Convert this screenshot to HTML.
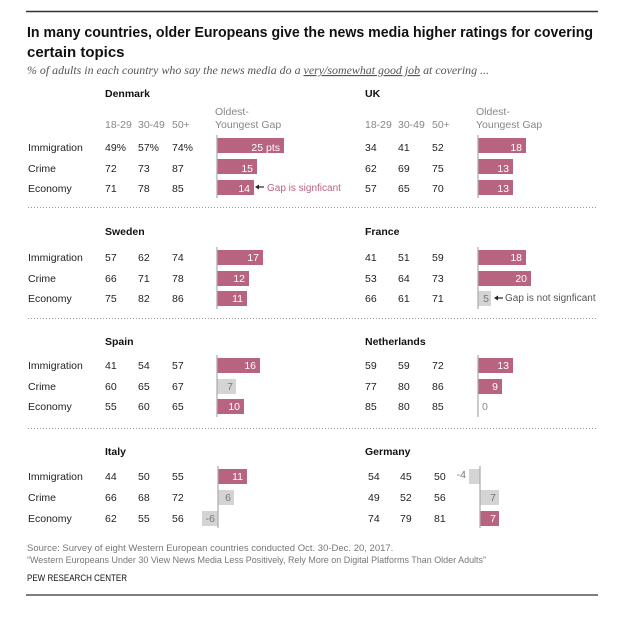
<!DOCTYPE html>
<html><head><meta charset="utf-8"><style>
html,body{margin:0;padding:0;background:#fff;width:620px;height:620px;overflow:hidden}
svg{display:block}
text{font-family:"Liberation Sans",sans-serif;font-size:10.5px;fill:#222}
.h{font-weight:bold;font-size:10.5px;fill:#111}
.g{fill:#888}
.w{fill:#fff;text-anchor:end}
.gr{fill:#777;text-anchor:end}
.pk{fill:#b8637f}
.bg{fill:#d4d4d4}
.ax{stroke:#aaa;stroke-width:1.2}
.sep{stroke:#999;stroke-width:1;stroke-dasharray:1,2}
</style></head><body>
<svg width="620" height="620" viewBox="0 0 620 620" xmlns="http://www.w3.org/2000/svg">
<line x1="26" y1="11.5" x2="598" y2="11.5" stroke="#333" stroke-width="1.5"/>
<text x="27" y="37" style="font-size:15px;font-weight:bold;fill:#111" textLength="566" lengthAdjust="spacingAndGlyphs">In many countries, older Europeans give the news media higher ratings for covering</text>
<text x="27" y="57" style="font-size:15px;font-weight:bold;fill:#111">certain topics</text>
<text x="27" y="74" style="font-family:'Liberation Serif',serif;font-style:italic;font-size:11.5px;fill:#555" textLength="462" lengthAdjust="spacingAndGlyphs">% of adults in each country who say the news media do a <tspan text-decoration="underline">very/somewhat good job</tspan> at covering ...</text>

<text class="h" x="105" y="97">Denmark</text>
<text class="h" x="365" y="97">UK</text>
<text x="105" y="128" class="g">18-29</text><text x="138" y="128" class="g">30-49</text><text x="172" y="128" class="g">50+</text>
<text x="215" y="115" class="g">Oldest-</text><text x="215" y="128" class="g">Youngest Gap</text>
<text x="365" y="128" class="g">18-29</text><text x="398" y="128" class="g">30-49</text><text x="432" y="128" class="g">50+</text>
<text x="476" y="115" class="g">Oldest-</text><text x="476" y="128" class="g">Youngest Gap</text>
<text x="28" y="151">Immigration</text><text x="28" y="172">Crime</text><text x="28" y="192">Economy</text>
<text x="105" y="151">49%</text><text x="138" y="151">57%</text><text x="172" y="151">74%</text>
<text x="105" y="172">72</text><text x="138" y="172">73</text><text x="172" y="172">87</text>
<text x="105" y="192">71</text><text x="138" y="192">78</text><text x="172" y="192">85</text>
<rect class="pk" x="217" y="138" width="67" height="15"/><text class="w" x="280" y="151">25 pts</text>
<rect class="pk" x="217" y="159" width="40" height="15"/><text class="w" x="253" y="172">15</text>
<rect class="pk" x="217" y="180" width="37" height="15"/><text class="w" x="250" y="192">14</text>
<line x1="257" y1="187" x2="264" y2="187" stroke="#222" stroke-width="1.2"/><path d="M255 187 L259 184.5 L259 189.5 Z" fill="#222"/>
<text x="267" y="191" style="fill:#b8637f;font-size:10px">Gap is signficant</text>
<line class="ax" x1="217" y1="135" x2="217" y2="198"/>
<text x="365" y="151">34</text><text x="398" y="151">41</text><text x="432" y="151">52</text>
<text x="365" y="172">62</text><text x="398" y="172">69</text><text x="432" y="172">75</text>
<text x="365" y="192">57</text><text x="398" y="192">65</text><text x="432" y="192">70</text>
<rect class="pk" x="478" y="138" width="48" height="15"/><text class="w" x="522" y="151">18</text>
<rect class="pk" x="478" y="159" width="35" height="15"/><text class="w" x="509" y="172">13</text>
<rect class="pk" x="478" y="180" width="35" height="15"/><text class="w" x="509" y="192">13</text>
<line class="ax" x1="478" y1="135" x2="478" y2="198"/>
<line class="sep" x1="28" y1="207.5" x2="598" y2="207.5"/>

<text class="h" x="105" y="235">Sweden</text>
<text class="h" x="365" y="235">France</text>
<text x="28" y="261">Immigration</text><text x="28" y="282">Crime</text><text x="28" y="302">Economy</text>
<text x="105" y="261">57</text><text x="138" y="261">62</text><text x="172" y="261">74</text>
<text x="105" y="282">66</text><text x="138" y="282">71</text><text x="172" y="282">78</text>
<text x="105" y="302">75</text><text x="138" y="302">82</text><text x="172" y="302">86</text>
<rect class="pk" x="217" y="250" width="46" height="15"/><text class="w" x="259" y="261">17</text>
<rect class="pk" x="217" y="271" width="32" height="15"/><text class="w" x="245" y="282">12</text>
<rect class="pk" x="217" y="291" width="30" height="15"/><text class="w" x="243" y="302">11</text>
<line class="ax" x1="217" y1="247" x2="217" y2="309"/>
<text x="365" y="261">41</text><text x="398" y="261">51</text><text x="432" y="261">59</text>
<text x="365" y="282">53</text><text x="398" y="282">64</text><text x="432" y="282">73</text>
<text x="365" y="302">66</text><text x="398" y="302">61</text><text x="432" y="302">71</text>
<rect class="pk" x="478" y="250" width="48" height="15"/><text class="w" x="522" y="261">18</text>
<rect class="pk" x="478" y="271" width="53" height="15"/><text class="w" x="527" y="282">20</text>
<rect class="bg" x="478" y="291" width="13" height="15"/><text class="gr" x="489" y="302">5</text>
<line x1="496" y1="298" x2="503" y2="298" stroke="#222" stroke-width="1.2"/><path d="M494 298 L498 295.5 L498 300.5 Z" fill="#222"/>
<text x="505" y="301" style="fill:#555;font-size:10px">Gap is not signficant</text>
<line class="ax" x1="478" y1="247" x2="478" y2="309"/>
<line class="sep" x1="28" y1="318.5" x2="598" y2="318.5"/>

<text class="h" x="105" y="345">Spain</text>
<text class="h" x="365" y="345">Netherlands</text>
<text x="28" y="369">Immigration</text><text x="28" y="390">Crime</text><text x="28" y="410">Economy</text>
<text x="105" y="369">41</text><text x="138" y="369">54</text><text x="172" y="369">57</text>
<text x="105" y="390">60</text><text x="138" y="390">65</text><text x="172" y="390">67</text>
<text x="105" y="410">55</text><text x="138" y="410">60</text><text x="172" y="410">65</text>
<rect class="pk" x="217" y="358" width="43" height="15"/><text class="w" x="256" y="369">16</text>
<rect class="bg" x="217" y="379" width="19" height="15"/><text class="gr" x="233" y="390">7</text>
<rect class="pk" x="217" y="399" width="27" height="15"/><text class="w" x="240" y="410">10</text>
<line class="ax" x1="217" y1="355" x2="217" y2="417"/>
<text x="365" y="369">59</text><text x="398" y="369">59</text><text x="432" y="369">72</text>
<text x="365" y="390">77</text><text x="398" y="390">80</text><text x="432" y="390">86</text>
<text x="365" y="410">85</text><text x="398" y="410">80</text><text x="432" y="410">85</text>
<rect class="pk" x="478" y="358" width="35" height="15"/><text class="w" x="509" y="369">13</text>
<rect class="pk" x="478" y="379" width="24" height="15"/><text class="w" x="498" y="390">9</text>
<text x="482" y="410" style="fill:#888">0</text>
<line class="ax" x1="478" y1="355" x2="478" y2="417"/>
<line class="sep" x1="28" y1="428.5" x2="598" y2="428.5"/>

<text class="h" x="105" y="455">Italy</text>
<text class="h" x="365" y="455">Germany</text>
<text x="28" y="480">Immigration</text><text x="28" y="501">Crime</text><text x="28" y="522">Economy</text>
<text x="105" y="480">44</text><text x="138" y="480">50</text><text x="172" y="480">55</text>
<text x="105" y="501">66</text><text x="138" y="501">68</text><text x="172" y="501">72</text>
<text x="105" y="522">62</text><text x="138" y="522">55</text><text x="172" y="522">56</text>
<rect class="pk" x="218" y="469" width="29" height="15"/><text class="w" x="243" y="480">11</text>
<rect class="bg" x="218" y="490" width="16" height="15"/><text class="gr" x="231" y="501">6</text>
<rect class="bg" x="202" y="511" width="16" height="15"/><text class="gr" x="215" y="522">-6</text>
<line class="ax" x1="218" y1="466" x2="218" y2="528"/>
<text x="368" y="480">54</text><text x="400" y="480">45</text><text x="434" y="480">50</text>
<text x="368" y="501">49</text><text x="400" y="501">52</text><text x="434" y="501">56</text>
<text x="368" y="522">74</text><text x="400" y="522">79</text><text x="434" y="522">81</text>
<rect class="bg" x="469" y="469" width="11" height="15"/><text class="gr" x="466" y="478">-4</text>
<rect class="bg" x="480" y="490" width="19" height="15"/><text class="gr" x="496" y="501">7</text>
<rect class="pk" x="480" y="511" width="19" height="15"/><text class="w" x="496" y="522">7</text>
<line class="ax" x1="480" y1="466" x2="480" y2="528"/>

<text x="27" y="551" style="fill:#777;font-size:9.5px">Source: Survey of eight Western European countries conducted Oct. 30-Dec. 20, 2017.</text>
<text x="27" y="563" style="fill:#777;font-size:9.5px" textLength="459" lengthAdjust="spacingAndGlyphs">“Western Europeans Under 30 View News Media Less Positively, Rely More on Digital Platforms Than Older Adults”</text>
<text x="27" y="581" style="fill:#111;font-size:9px" textLength="100" lengthAdjust="spacingAndGlyphs">PEW RESEARCH CENTER</text>
<line x1="26" y1="595" x2="598" y2="595" stroke="#333" stroke-width="1.2"/>
</svg>
</body></html>
